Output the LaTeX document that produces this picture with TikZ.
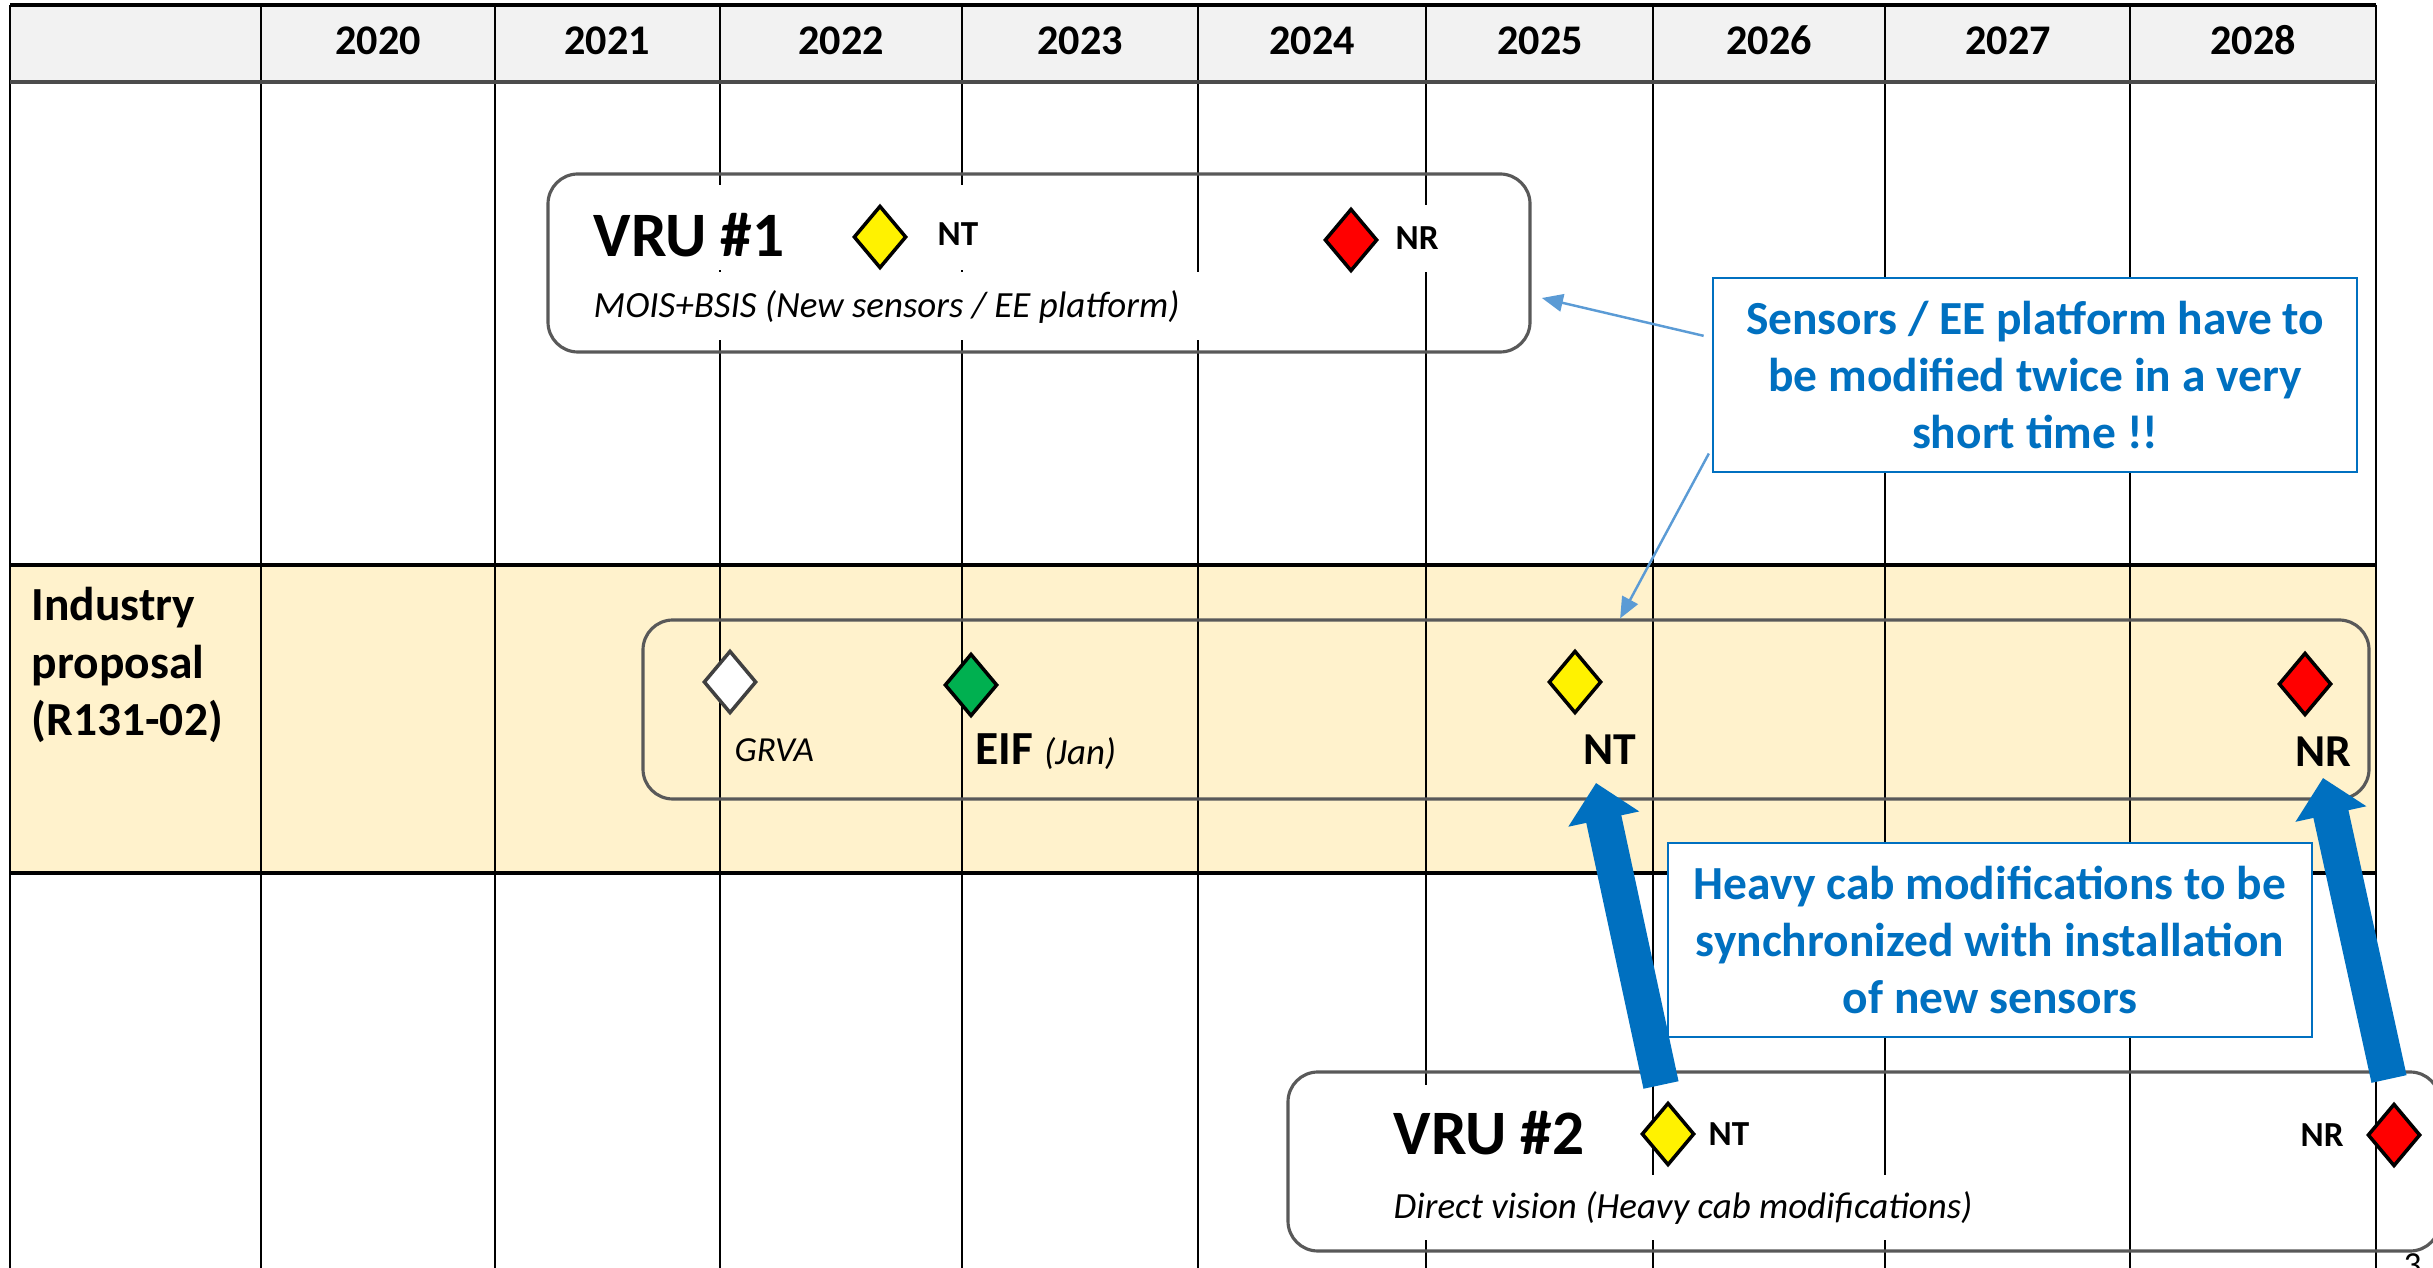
\documentclass[tikz,border=0pt]{standalone}
\usepackage{fontspec}
\setmainfont{Carlito}
\usepackage{tikz}
\usetikzlibrary{shapes.geometric,arrows.meta,calc,fit}
\definecolor{headgray}{RGB}{242,242,242}
\definecolor{bandyellow}{RGB}{255,242,204}
\definecolor{framegray}{RGB}{89,89,89}
\definecolor{calloutblue}{RGB}{0,112,192}
\definecolor{linkblue}{RGB}{91,155,213}
\definecolor{msgreen}{RGB}{0,176,80}

\begin{document}
\begin{tikzpicture}[x=0.01cm,y=-0.01cm,
    gridline/.style={line width=0.7pt},
    rowline/.style={line width=1pt},
    roundbox/.style={draw=framegray,line width=0.9pt,rounded corners=8.5pt,inner sep=0pt},
    mask/.style={fill=white},
    ms/.style={diamond,draw=black,line width=1pt,inner sep=0pt,minimum width=15pt,minimum height=17.8pt},
    yearlab/.style={font=\bfseries\fontsize{12}{14}\selectfont,anchor=base},
    vrutitle/.style={font=\bfseries\fontsize{18}{21}\selectfont,anchor=base west,inner sep=0pt},
    vrusub/.style={font=\itshape\fontsize{10.5}{12}\selectfont,anchor=base west,inner sep=0pt},
    mstag/.style={font=\bfseries\fontsize{10}{12}\selectfont,anchor=base west,inner sep=0pt},
    bigtag/.style={font=\bfseries\fontsize{13}{15}\selectfont,anchor=base west,inner sep=0pt},
    callout/.style={draw=calloutblue,line width=0.6pt,fill=white,text=calloutblue,align=center,
        font=\bfseries\fontsize{13.5}{16.2}\selectfont,minimum width=183pt,minimum height=55pt},
    linkarrow/.style={draw=linkblue,line width=0.7pt,-{Triangle[length=6pt,width=5pt]}},
    bigarrow/.style={draw=calloutblue,line width=10.2pt,-{Triangle[length=10.5pt,width=20pt]}}]
    \useasboundingbox (0,0) rectangle (2433,1268);
    \clip (0,0) rectangle (2433,1268);
    \fill[headgray] (10,5) rectangle (2376,82);
    \fill[bandyellow] (10,565) rectangle (2376,873);
    \foreach \x in {10,261,495,720,962,1198,1426,1653,1885,2130,2376}
        \draw[gridline] (\x,5) -- (\x,1268);
    \foreach \y in {5,565,873}
        \draw[rowline] (10,\y) -- (2376,\y);
    \draw[rowline,black!70] (10,82) -- (2376,82);
    \foreach \yr/\x in {2020/378,2021/607,2022/841,2023/1080,2024/1312,2025/1540,2026/1769,2027/2008,2028/2253}
        \node[yearlab] (y\yr) at (\x,55) {\yr};

    \fill[mask] (575,185) rectangle (1010,270);
    \fill[mask] (575,272) rectangle (1300,340);
    \fill[mask] (1310,205) rectangle (1450,272);
    \fill[mask] (1385,1085) rectangle (1620,1175);
    \fill[mask] (1385,1175) rectangle (1990,1240);

    \node[roundbox,fit={(548,174) (1530,352)}] (vru1box) {};
    \node[roundbox,fit={(643,620) (2369,799)}] (indbox) {};
    \node[roundbox,fit={(1288,1072) (2440,1251)}] (vru2box) {};

    \node[vrutitle] (vru1) at (593,257) {VRU \#1};
    \node[ms,fill=yellow] (nt1) at (880,237) {};
    \node[mstag] (nt1lab) at (937,246) {NT};
    \node[ms,fill=red] (nr1) at (1351,240) {};
    \node[mstag] (nr1lab) at (1395,250) {NR};
    \node[vrusub] (vru1sub) at (593,318) {MOIS+BSIS (New sensors / EE platform)};

    \node[font=\bfseries\fontsize{13.5}{16.3}\selectfont,align=left,anchor=west,inner sep=0pt] (ind) at (31,665) {Industry\\proposal\\(R131-02)};
    \node[ms,draw=black!75,fill=white] (grva) at (730,682) {};
    \node[vrusub,font=\itshape\fontsize{10}{12}\selectfont] (grvalab) at (734,762) {GRVA};
    \node[ms,fill=msgreen] (eif) at (971,685) {};
    \node[bigtag,font=\bfseries\fontsize{13.5}{15}\selectfont] (eiflab) at (975,765) {EIF {\mdseries\itshape\fontsize{10.5}{12}\selectfont (Jan)}};
    \node[ms,fill=yellow] (nt) at (1575,682) {};
    \node[bigtag] (ntlab) at (1583,765) {NT};
    \node[ms,fill=red] (nr) at (2305,684) {};
    \node[bigtag] (nrlab) at (2295,767) {NR};

    \node[vrutitle] (vru2) at (1393,1155) {VRU \#2};
    \node[ms,fill=yellow] (nt2) at (1668,1134) {};
    \node[mstag] (nt2lab) at (1708,1146) {NT};
    \node[mstag] (nr2lab) at (2300,1147) {NR};
    \node[ms,fill=red] (nr2) at (2394,1135) {};
    \node[vrusub] (vru2sub) at (1393,1219) {Direct vision (Heavy cab modifications)};
    \node[font=\fontsize{10}{12}\selectfont,anchor=north west,inner sep=0pt] (pageno) at (2403,1253) {3};

    \node[callout] (twice) at (2035,375) {Sensors / EE platform have to\\be modified twice in a very\\short time !!};
    \node[callout] (sync) at (1990,940) {Heavy cab modifications to be\\synchronized with installation\\of new sensors};

    \draw[linkarrow,shorten <=2.5pt,shorten >=3pt] ($(twice.north west)!0.31!(twice.south west)$) -- ($(vru1box.north east)!0.68!(vru1box.south east)$);
    \draw[linkarrow,shorten <=2pt] ($(twice.north west)!0.87!(twice.south west)$) -- ($(indbox.north west)!0.566!(indbox.north east)$);

    \coordinate (ntfoot) at (1661,1085);
    \coordinate (nttip) at (1596,783);
    \coordinate (nrfoot) at (2389,1079);
    \coordinate (nrtip) at (2323,778);
    \draw[bigarrow] (ntfoot) -- (nttip);
    \draw[bigarrow] (nrfoot) -- (nrtip);
\end{tikzpicture}
\end{document}
